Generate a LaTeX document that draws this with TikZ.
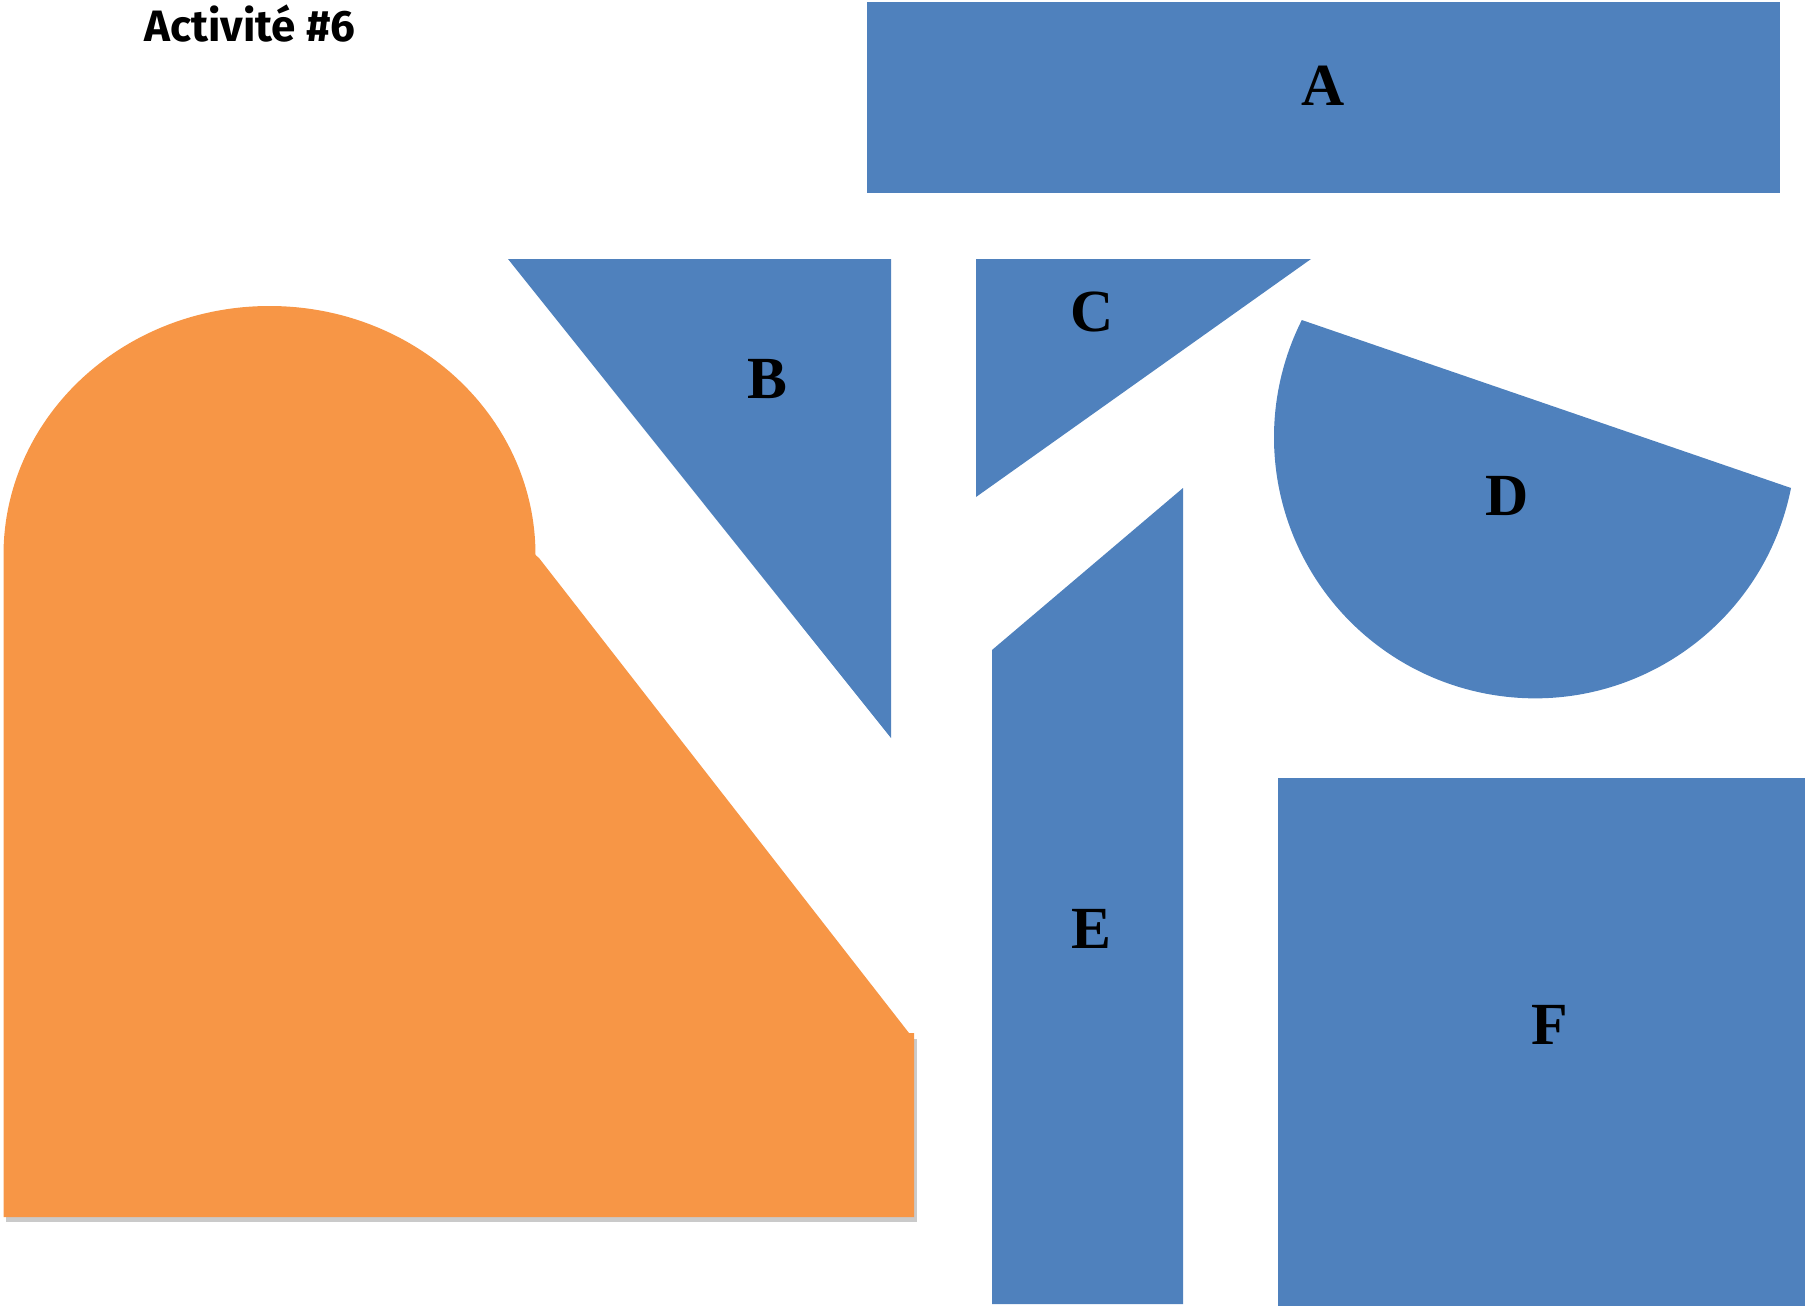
\documentclass[tikz,border=0pt]{standalone}
\usepackage{fontspec}
\setmainfont{Liberation Serif}
\newfontfamily\titlefont{Fira Sans}
\usepackage{xcolor}
\usepackage{tikz}
\definecolor{pieceblue}{HTML}{4F81BD}
\definecolor{pieceorange}{HTML}{F79646}
\tikzset{
  piece/.style={fill=pieceblue},
  letter/.style={font=\fontsize{17}{17}\selectfont\bfseries, inner sep=0pt}
}

\begin{document}
\begin{tikzpicture}[x=0.01cm, y=-0.01cm]
\useasboundingbox (0,0) rectangle (1805,1306);
\node[font=\titlefont\fontsize{12.5}{13}\selectfont\bfseries] (title) at (250,24) {Activité \#6};
\fill[piece] (867,2) rectangle (1780,193);
\fill[piece] (508,259) -- (891,259) -- (891,738) -- cycle;
\fill[piece] (976,259) -- (1311,259) -- (976,497) -- cycle;
\fill[piece] (1791,488) arc[start angle=11.2, end angle=206.7, radius=261] -- cycle;
\fill[piece] (1183,488) -- (1183,1304) -- (992,1304) -- (992,650) -- cycle;
\fill[piece] (1278,778) rectangle (1805,1306);
\fill[black!35, opacity=0.6] (6,1039) rectangle (917,1222);
\fill[pieceorange] (3.5,1217) -- (3.5,555) arc[start angle=180, end angle=360, x radius=266, y radius=249]
  -- (539,558) -- (909,1033) -- (914,1033) -- (914,1217) -- cycle;
\node[letter] (a) at (1323,86) {A};
\node[letter] (b) at (767,379) {B};
\node[letter] (c) at (1092,312) {C};
\node[letter] (d) at (1507,496) {D};
\node[letter] (e) at (1091,929) {E};
\node[letter] (f) at (1550,1025) {F};
\end{tikzpicture}
\end{document}
